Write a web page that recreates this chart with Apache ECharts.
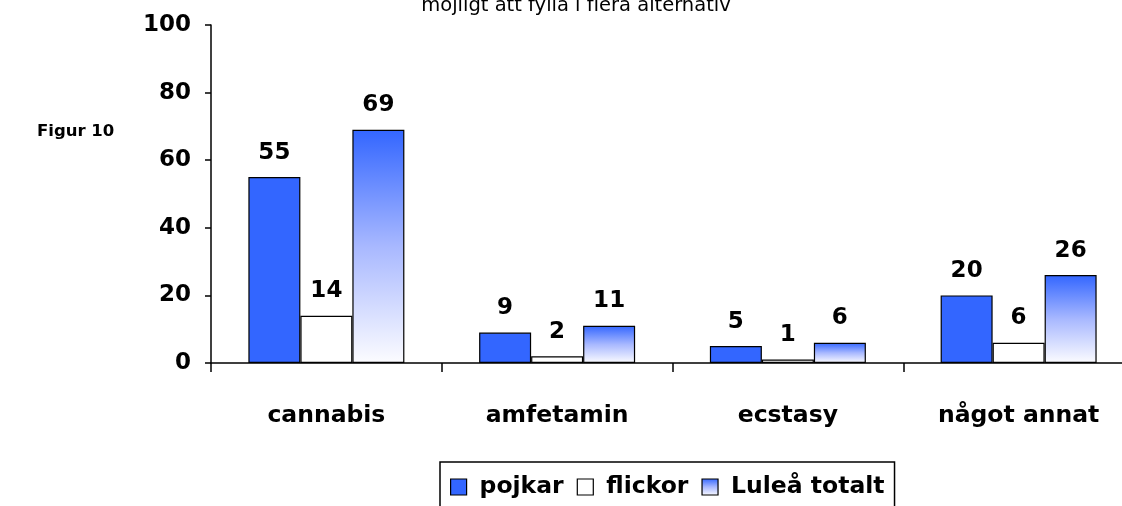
<!DOCTYPE html>
<html>
<head>
<meta charset="utf-8">
<script src="https://cdn.jsdelivr.net/npm/echarts@6/dist/echarts.min.js"></script>
<style>
html,body{margin:0;padding:0;background:#fff;overflow:hidden;width:1122px;height:506px;}
#chart{width:1134px;height:506px;}
</style>
</head>
<body>
<div id="chart"></div>
<script>
const categories = ['cannabis', 'amfetamin', 'ecstasy', 'något annat'];
const seriesNames = ['pojkar', 'flickor', 'Luleå totalt'];
const pojkar = [55, 9, 5, 20];
const flickor = [14, 2, 1, 6];
const lulea = [69, 11, 6, 26];
const yTicks = [0, 20, 40, 60, 80, 100];
const titleText = 'möjligt att fylla i flera alternativ';
const figText = 'Figur 10';

const FONT = 'DejaVu Sans, Liberation Sans, Arial, sans-serif';
const chart = echarts.init(document.getElementById('chart'));
const labelCfg = {
  show: true, position: 'top', distance: 13,
  fontFamily: FONT, fontWeight: 'bold', fontSize: 23, color: '#000'
};
const edge = {borderColor: '#000', borderWidth: 1.2};
chart.setOption({
  animation: false,
  backgroundColor: '#fff',
  title: [
    {text: titleText, left: 576, top: -4, textAlign: 'center', padding: 0,
     textStyle: {fontFamily: FONT, fontWeight: 'normal', fontSize: 19.5, color: '#000'}},
    {text: figText, left: 37, top: 123, padding: 0,
     textStyle: {fontFamily: FONT, fontWeight: 'bold', fontSize: 16.5, color: '#000'}}
  ],
  grid: {left: 211, right: 0, top: 25, bottom: 143, containLabel: false},
  legend: {
    data: seriesNames,
    left: 440, top: 462,
    padding: [13, 10, 20, 10],
    borderColor: '#000', borderWidth: 1.5,
    icon: 'rect', itemWidth: 16, itemHeight: 16, itemGap: 13,
    itemStyle: {borderColor: '#000', borderWidth: 1.2},
    textStyle: {fontFamily: FONT, fontWeight: 'bold', fontSize: 23.5, color: '#000', padding: [0, 0, 0, 8]}
  },
  xAxis: {
    type: 'category', data: categories,
    axisLine: {lineStyle: {color: '#000', width: 1.5}},
    axisTick: {show: true, length: 9, lineStyle: {color: '#000', width: 1.5}},
    axisLabel: {margin: 41, fontFamily: FONT, fontWeight: 'bold', fontSize: 23.5, color: '#000'}
  },
  yAxis: {
    type: 'value', min: 0, max: 100, interval: 20,
    splitLine: {show: false},
    axisLine: {show: true, lineStyle: {color: '#000', width: 1.5}},
    axisTick: {show: true, length: 6, lineStyle: {color: '#000', width: 1.5}},
    axisLabel: {margin: 20, fontFamily: FONT, fontWeight: 'bold', fontSize: 23, color: '#000',
      formatter: v => yTicks.includes(v) ? String(v) : ''}
  },
  series: [
    {name: seriesNames[0], type: 'bar', data: pojkar, barWidth: 52, barGap: '0%',
     itemStyle: Object.assign({color: '#3366FF'}, edge), label: labelCfg},
    {name: seriesNames[1], type: 'bar', data: flickor, barWidth: 52, barGap: '0%',
     itemStyle: Object.assign({color: '#FFFFFF'}, edge), label: labelCfg},
    {name: seriesNames[2], type: 'bar', data: lulea, barWidth: 52, barGap: '0%',
     itemStyle: Object.assign({color: new echarts.graphic.LinearGradient(0, 0, 0, 1, [
        {offset: 0, color: '#3366FF'}, {offset: 0.5, color: '#A8B8FF'}, {offset: 1, color: '#FCFCFF'}])}, edge),
     label: labelCfg}
  ]
});
</script>
</body>
</html>
